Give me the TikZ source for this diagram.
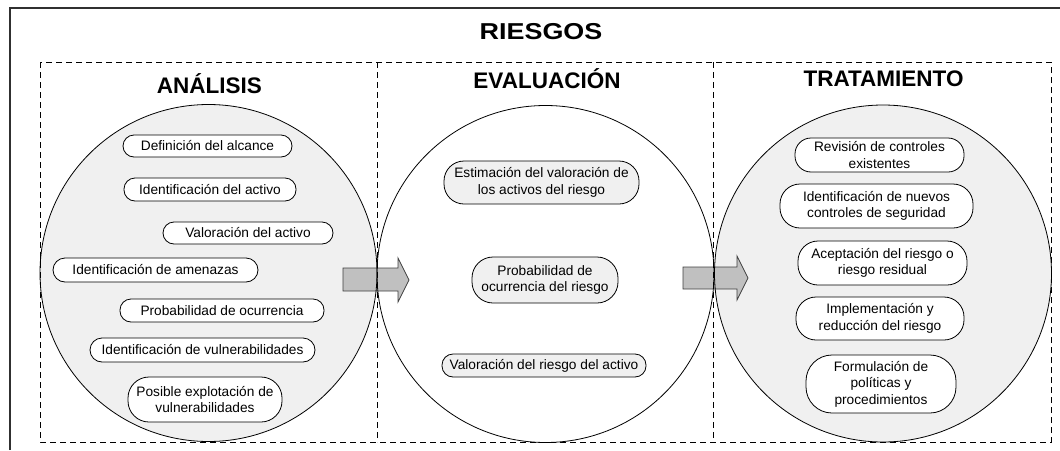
\documentclass[tikz,border=0pt]{standalone}
\usepackage{fontspec}
\setmainfont{Liberation Sans}
\definecolor{cfill}{HTML}{F0F0F0}
\definecolor{afill}{HTML}{C0C0C0}
\definecolor{aline}{HTML}{404040}
\definecolor{oline}{HTML}{303030}
\begin{document}
\begin{tikzpicture}[x=1pt,y=-1pt,
  pill/.style n args={3}{draw=black, line width=0.8pt, fill=white, align=center,
    inner sep=0pt, minimum width=#1, minimum height=#2, rounded corners=#3,
    font=\fontsize{13.7}{16.5}\selectfont},
  gpill/.style n args={3}{pill={#1}{#2}{#3}, fill=cfill},
  title/.style={font=\fontsize{22.5}{26}\selectfont\bfseries, anchor=base, inner sep=0pt},
  circ/.style={draw=black, line width=0.8pt},
  dbox/.style={draw=black, line width=0.9pt, dash pattern=on 6pt off 4pt},
  barrow/.style={draw=aline, line width=0.8pt, fill=afill}]
\useasboundingbox (0,0) rectangle (1060,450);
% outer frame (cropped)
\draw[oline, line width=1.5pt] (10,450) -- (10,8) -- (1062,8);
% circles
\fill[cfill] (208.5,273) circle[radius=168.5];
\fill[cfill] (883,273.5) circle[radius=168.5];
% arrows
\draw[barrow] (343,268) -- (398,268) -- (398,258) -- (409,280) -- (398,302) -- (398,291) -- (343,291) -- cycle;
\draw[barrow] (683,267) -- (737,267) -- (737,256) -- (748,278) -- (737,300) -- (737,289) -- (683,289) -- cycle;
\draw[circ] (208.5,273) circle[radius=168.5];
\draw[circ] (545.5,274) circle[radius=168.5];
\draw[circ] (883,273.5) circle[radius=168.5];
% dashed boxes
\draw[dbox] (40,62) rectangle (1051,442);
\draw[dbox] (377,62) -- (377,442);
\draw[dbox] (713,62) -- (713,442);
% titles
\node[title] (riesgos) at (541,39) {\fontsize{23}{26}\selectfont\scalebox{1.17}[1]{RIESGOS}};
\node[title] (analisis) at (209.5,93) {ANÁLISIS};
\node[title] (evaluacion) at (547,88) {EVALUACIÓN};
\node[title] (tratamiento) at (883.5,86) {TRATAMIENTO};
% analysis items
\node[pill={169pt}{22pt}{11pt}] (a1) at (207.5,146) {Definición del alcance};
\node[pill={172pt}{23pt}{11pt}] (a2) at (210,189.5) {Identificación del activo};
\node[pill={170pt}{22pt}{11pt}] (a3) at (248,233) {Valoración del activo};
\node[pill={205pt}{24pt}{12pt}] (a4) at (155.5,270) {Identificación de amenazas};
\node[pill={204pt}{23pt}{11pt}] (a5) at (222,310.5) {Probabilidad de ocurrencia};
\node[pill={225pt}{24pt}{12pt}] (a6) at (202.5,350) {Identificación de vulnerabilidades};
\node[pill={154pt}{45pt}{21pt}] (a7) at (205,399.5) {Posible explotación de\\vulnerabilidades};
% evaluation items
\node[gpill={195pt}{43pt}{20pt}] (e1) at (541.5,182.5) {Estimación del valoración de\\los activos del riesgo};
\node[gpill={146pt}{46pt}{21pt}] (e2) at (545,280) {Probabilidad de\\ocurrencia del riesgo};
\node[gpill={204pt}{23pt}{11pt}] (e3) at (544,365.5) {Valoración del riesgo del activo};
% treatment items
\node[pill={169pt}{34pt}{16pt}] (t1) at (879.5,155) {Revisión de controles\\existentes};
\node[pill={193pt}{44pt}{20pt}] (t2) at (876.5,206) {Identificación de nuevos\\controles de seguridad};
\node[pill={169pt}{44pt}{20pt}] (t3) at (882.5,263) {Aceptación del riesgo o\\riesgo residual};
\node[pill={168pt}{43pt}{20pt}] (t4) at (880,318.5) {Implementación y\\reducción del riesgo};
\node[pill={150pt}{58pt}{26pt}] (t5) at (881,384) {Formulación de\\políticas y\\procedimientos};
\end{tikzpicture}
\end{document}
